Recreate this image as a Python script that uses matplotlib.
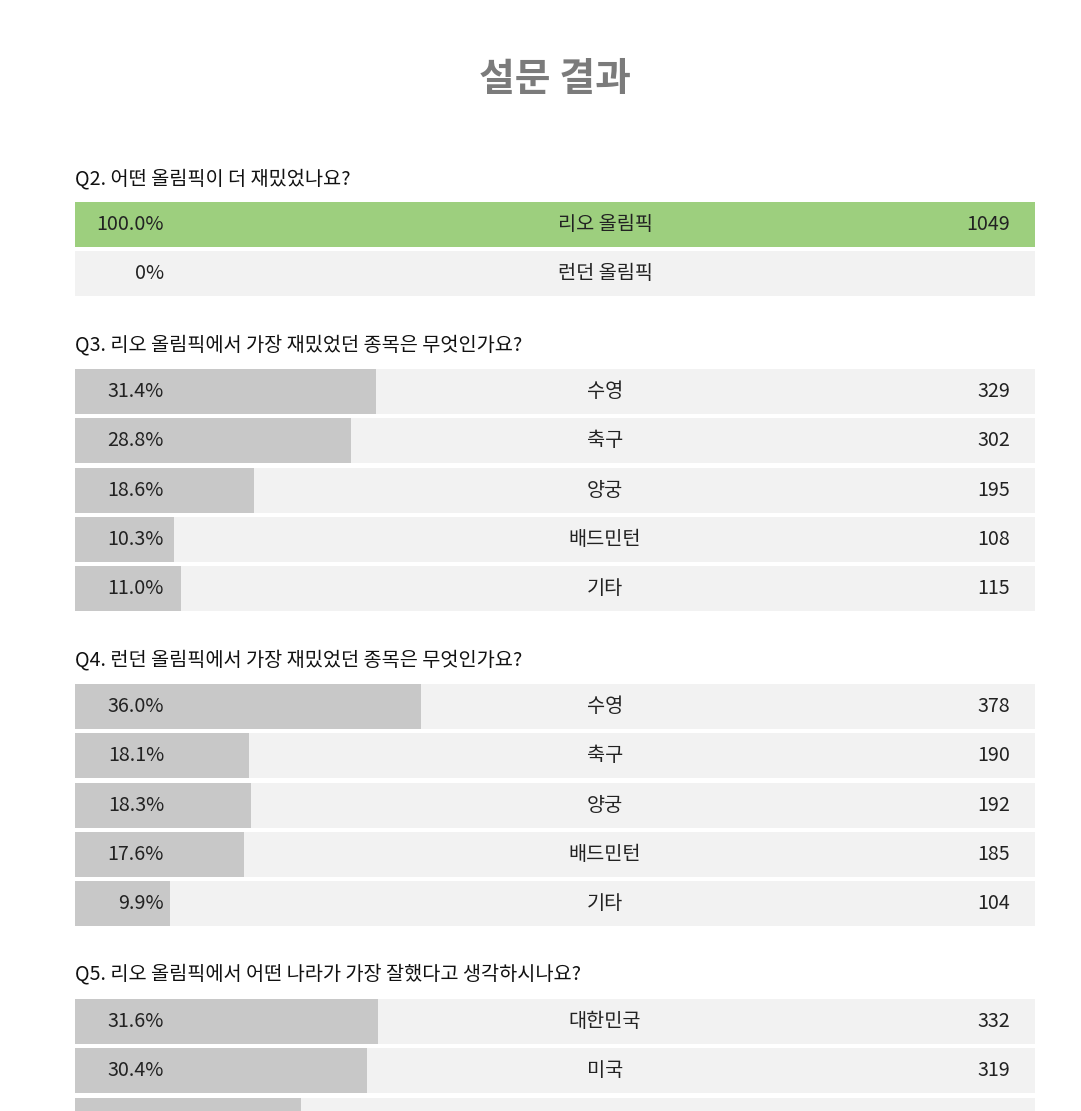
import matplotlib
matplotlib.use("Agg")
import matplotlib.pyplot as plt

plt.rcParams['font.family'] = ['Noto Sans CJK KR', 'DejaVu Sans']

# survey data
title = '설문 결과'
questions = [
    'Q2. 어떤 올림픽이 더 재밌었나요?',
    'Q3. 리오 올림픽에서 가장 재밌었던 종목은 무엇인가요?',
    'Q4. 런던 올림픽에서 가장 재밌었던 종목은 무엇인가요?',
    'Q5. 리오 올림픽에서 어떤 나라가 가장 잘했다고 생각하시나요?',
]
q2_labels = ['리오 올림픽', '런던 올림픽']
q2_pcts = [100.0, 0]
q2_counts = [1049, None]

q3_labels = ['수영', '축구', '양궁', '배드민턴', '기타']
q3_pcts = [31.4, 28.8, 18.6, 10.3, 11.0]
q3_counts = [329, 302, 195, 108, 115]

q4_labels = ['수영', '축구', '양궁', '배드민턴', '기타']
q4_pcts = [36.0, 18.1, 18.3, 17.6, 9.9]
q4_counts = [378, 190, 192, 185, 104]

# third row is cut off at the bottom of the page
q5_labels = ['대한민국', '미국', '중국']
q5_pcts = [31.6, 30.4, 23.5]
q5_counts = [332, 319, 247]

sections = [
    (q2_labels, q2_pcts, q2_counts),
    (q3_labels, q3_pcts, q3_counts),
    (q4_labels, q4_pcts, q4_counts),
    (q5_labels, q5_pcts, q5_counts),
]

W, H = 1081, 1111
fig = plt.figure(figsize=(W / 100, H / 100), dpi=100)
ax = fig.add_axes([0, 0, 1, 1])
ax.set_xlim(0, W)
ax.set_ylim(H, 0)
ax.axis('off')

x0, full = 75, 960
row_h, pitch = 45, 49.3
q_y = [179, 345, 660, 974]
first_row = [202, 369, 684, 999]
fs = 14.2

ax.text(555, 80, title, ha='center', va='center', fontsize=28,
        fontweight='bold', color='#7b7b7b')

for i, (labels, pcts, counts) in enumerate(sections):
    ax.text(x0, q_y[i], questions[i], ha='left', va='center',
            fontsize=fs, color='#111111')
    for j, (lab, p, c) in enumerate(zip(labels, pcts, counts)):
        top = first_row[i] + j * pitch
        yc = top + row_h / 2
        ax.barh(yc, full, left=x0, height=row_h, color='#f2f2f2', zorder=1)
        color = '#9dcf7e' if (i == 0 and p == max(pcts)) else '#c8c8c8'
        ax.barh(yc, full * p / 100, left=x0, height=row_h, color=color, zorder=2)
        if yc > H:
            continue  # row text falls below the page edge
        ptxt = '0%' if p == 0 else f'{p:.1f}%'
        ax.text(164, yc, ptxt, ha='right', va='center', fontsize=fs,
                color='#222222', zorder=3)
        ax.text(605, yc, lab, ha='center', va='center', fontsize=fs,
                color='#222222', zorder=3)
        if c is not None:
            ax.text(1010, yc, str(c), ha='right', va='center', fontsize=fs,
                    color='#222222', zorder=3)

fig.savefig('out.png', dpi=100, facecolor='white')
